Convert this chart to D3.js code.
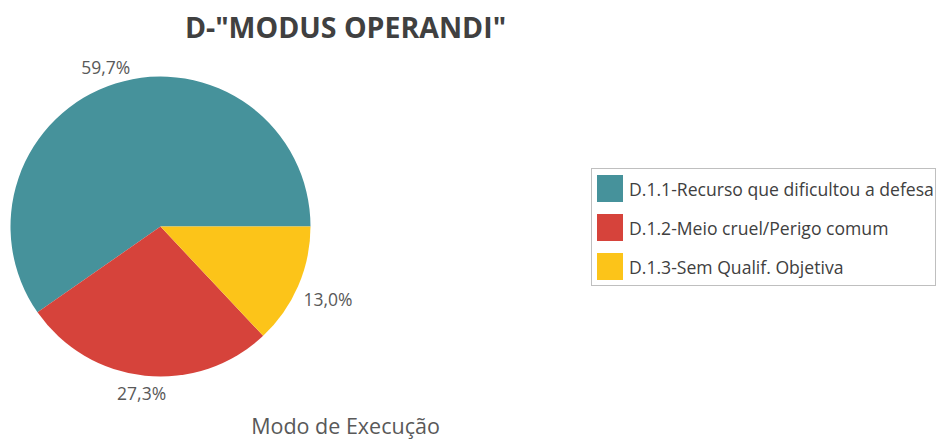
<!DOCTYPE html>
<html lang="pt">
<head>
<meta charset="UTF-8">
<script src="https://cdn.jsdelivr.net/npm/d3@7"></script>
<style>
  body { margin: 0; background: #fff; }
  text { font-family: "Open Sans", "Noto Sans", sans-serif; }
</style>
</head>
<body>
<svg width="936" height="441"></svg>
<script>
const categories = ["D.1.1-Recurso que dificultou a defesa", "D.1.2-Meio cruel/Perigo comum", "D.1.3-Sem Qualif. Objetiva"];
const values = [59.7, 27.3, 13.0];
const labels = ["59,7%", "27,3%", "13,0%"];
const colors = ["#46929b", "#d6433b", "#fcc419"];

const width = 936, height = 441;
const cx = 160.5, cy = 226.5, r = 150;

const svg = d3.select("svg");

// title
svg.append("text")
  .attr("x", 345.5).attr("y", 38)
  .attr("text-anchor", "middle")
  .attr("font-size", 28.5).attr("font-weight", "bold")
  .attr("fill", "#404040")
  .text('D-"MODUS OPERANDI"');

// pie goes counterclockwise starting at 3 o'clock
const pie = d3.pie().sort(null)
  .startAngle(Math.PI / 2)
  .endAngle(Math.PI / 2 - 2 * Math.PI);
const arcs = pie(values);
const arc = d3.arc().innerRadius(0).outerRadius(r);

const g = svg.append("g").attr("transform", `translate(${cx},${cy})`);
g.selectAll("path")
  .data(arcs)
  .join("path")
  .attr("d", arc)
  .attr("fill", (d, i) => colors[i]);

// labels outside end
const lab = g.selectAll("text.lbl")
  .data(arcs)
  .join("text")
  .attr("class", "lbl")
  .attr("font-size", 17.5)
  .attr("fill", "#595959")
  .attr("text-anchor", "middle")
  .attr("dominant-baseline", "central")
  .text((d, i) => labels[i]);

lab.each(function(d) {
  const a = (d.startAngle + d.endAngle) / 2;
  const sx = Math.sin(a), sy = -Math.cos(a);
  const w = this.getComputedTextLength(), h = 18;
  const ax = (r + 8) * sx + (w / 2) * sx;
  const ay = (r + 8) * sy + (h / 2) * sy + (Math.abs(sy) < 0.6 ? 6 : 0);
  d3.select(this).attr("x", ax).attr("y", ay);
});

// caption under the pie
svg.append("text")
  .attr("x", 345.5).attr("y", 434)
  .attr("text-anchor", "middle")
  .attr("font-size", 21.5)
  .attr("fill", "#595959")
  .text("Modo de Execução");

// legend
const lg = svg.append("g").attr("transform", "translate(591,168)");
lg.append("rect")
  .attr("x", 0.5).attr("y", 0.5)
  .attr("width", 344).attr("height", 117)
  .attr("fill", "#fff")
  .attr("stroke", "#bfbfbf");

const items = lg.selectAll("g.item")
  .data(categories)
  .join("g")
  .attr("class", "item")
  .attr("transform", (d, i) => `translate(6,${7 + i * 39})`);

items.append("rect")
  .attr("width", 26).attr("height", 27)
  .attr("fill", (d, i) => colors[i]);

items.append("text")
  .attr("x", 32).attr("y", 14)
  .attr("dominant-baseline", "central")
  .attr("font-size", 17.6)
  .attr("fill", "#404040")
  .text(d => d);
</script>
</body>
</html>
